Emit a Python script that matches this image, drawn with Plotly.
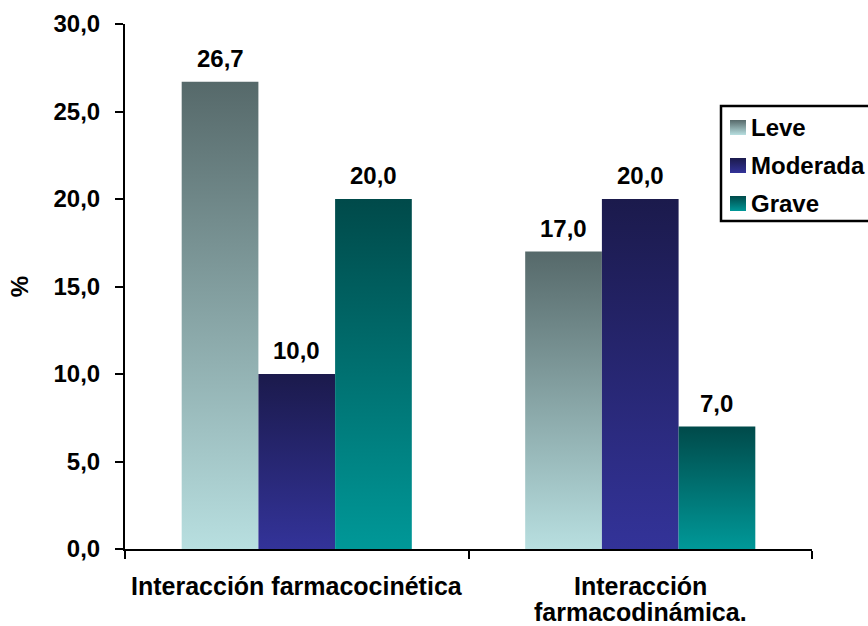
import plotly.graph_objects as go

# Data
categories = ["Interacción farmacocinética", "Interacción<br>farmacodinámica."]
series_names = ["Leve", "Moderada", "Grave"]
leve = [26.7, 17.0]
moderada = [10.0, 20.0]
grave = [20.0, 7.0]
y_ticks = [0, 5, 10, 15, 20, 25, 30]

# Styling: bottom -> top gradient colours per series
grad_colors = {
    "Leve": ("#b8dfe0", "#56696a"),
    "Moderada": ("#333399", "#1b1a4c"),
    "Grave": ("#009898", "#004a4a"),
}
values = {"Leve": leve, "Moderada": moderada, "Grave": grave}

FONT = "Liberation Sans, Arial, sans-serif"
FS = 24
BAR_W = 0.2233  # width of one bar in category units

W, H = 868, 626
ML, MR, MT, MB = 125, 56, 24, 77


def px_x(p):
    return (p - ML) / (W - ML - MR)


def px_y(p):
    return (H - MB - p) / (H - MT - MB)


fig = go.Figure()

for s_idx, name in enumerate(series_names):
    bottom, top = grad_colors[name]
    for c_idx, v in enumerate(values[name]):
        xc = c_idx + (s_idx - 1) * BAR_W
        x0, x1 = xc - BAR_W / 2, xc + BAR_W / 2
        fig.add_trace(go.Scatter(
            x=[x0, x0, x1, x1, x0],
            y=[0, v, v, 0, 0],
            mode="lines",
            fill="toself",
            line=dict(width=0, color=top),
            fillgradient=dict(type="vertical", start=0, stop=v,
                              colorscale=[[0, bottom], [1, top]]),
            name=name,
            showlegend=False,
            hoverinfo="skip",
        ))
        fig.add_annotation(
            x=xc, y=v, xref="x", yref="y",
            text=f"{v:.1f}".replace(".", ","),
            showarrow=False, yanchor="bottom", yshift=8,
            font=dict(family=FONT, size=FS, color="black", weight="bold"),
        )

# Category labels under each group, one annotation per text line
LABEL_FIRST_LINE_Y = 586
LABEL_LINE_STEP = 26
for c_idx, label in enumerate(categories):
    for l_idx, line in enumerate(label.split("<br>")):
        fig.add_annotation(
            x=c_idx, xref="x",
            y=px_y(LABEL_FIRST_LINE_Y + l_idx * LABEL_LINE_STEP), yref="paper",
            text=line, showarrow=False, xanchor="center", yanchor="middle",
            font=dict(family=FONT, size=25, color="black", weight="bold"),
        )

# Legend box drawn by hand: gradient swatches on a pixel-scaled helper axis
LEG_LEFT, LEG_TOP, LEG_BOTTOM = 721, 106, 221
SW_X0, SW_X1, SW_SIZE = 730, 746, 15
TEXT_X = 749
row_centers = [127.5, 165.5, 203.5]

for name, yc in zip(series_names, row_centers):
    bottom, top = grad_colors[name]
    ya, yb = yc - SW_SIZE / 2, yc + SW_SIZE / 2
    fig.add_trace(go.Scatter(
        x=[SW_X0, SW_X0, SW_X1, SW_X1, SW_X0],
        y=[yb, ya, ya, yb, yb],
        xaxis="x3", yaxis="y3",
        mode="lines", fill="toself",
        line=dict(width=0, color=top),
        fillgradient=dict(type="vertical", start=ya, stop=yb,
                          colorscale=[[0, top], [1, bottom]]),
        showlegend=False, hoverinfo="skip",
    ))
    fig.add_annotation(
        x=px_x(TEXT_X), y=px_y(yc), xref="paper", yref="paper",
        text=name, showarrow=False, xanchor="left", yanchor="middle",
        font=dict(family=FONT, size=FS, color="black", weight="bold"),
    )

fig.add_shape(
    type="rect", xref="paper", yref="paper",
    x0=px_x(LEG_LEFT), x1=px_x(W + 40), y0=px_y(LEG_BOTTOM), y1=px_y(LEG_TOP),
    line=dict(color="black", width=2.5), fillcolor="white", layer="below",
)

fig.update_layout(
    width=W, height=H,
    margin=dict(l=ML, r=MR, t=MT, b=MB, autoexpand=False),
    paper_bgcolor="white", plot_bgcolor="white",
    separators=", ",
    showlegend=False,
    font=dict(family=FONT, size=FS, color="black", weight="bold"),
    xaxis=dict(
        range=[-0.5, 1.5], tickvals=[-0.5, 0.5, 1.5], ticktext=["", "", ""],
        ticks="outside", ticklen=8, tickwidth=2, tickcolor="black",
        showline=True, linecolor="black", linewidth=2,
        showgrid=False, zeroline=False,
    ),
    xaxis3=dict(overlaying="x", anchor="y3", range=[ML, W - MR], visible=False),
    yaxis3=dict(overlaying="y", anchor="x3", range=[H - MB, MT], visible=False),
    yaxis=dict(
        range=[0, 30], tickvals=y_ticks, tickformat=".1f",
        ticks="outside", ticklen=8, tickwidth=2, tickcolor="black",
        showline=True, linecolor="black", linewidth=2,
        showgrid=False, zeroline=False, ticklabelstandoff=10,
        tickfont=dict(family=FONT, size=FS, color="black", weight="bold"),
        title=dict(text="%", standoff=18,
                   font=dict(family=FONT, size=FS, color="black", weight="bold")),
    ),
)

fig.write_html("out.html")
